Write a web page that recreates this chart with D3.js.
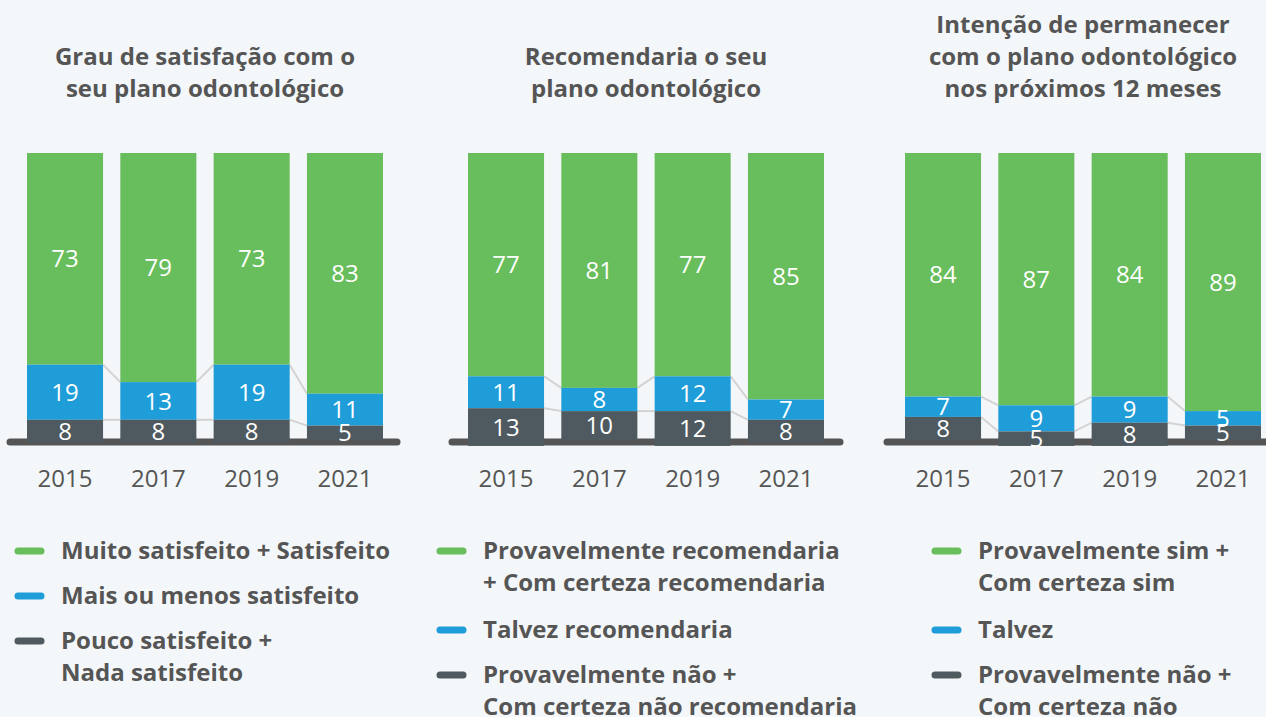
<!DOCTYPE html>
<html><head><meta charset="utf-8">
<script src="https://cdn.jsdelivr.net/npm/d3@7"></script>
<style>
html,body{margin:0;padding:0;background:#f4f7f9;}
svg{display:block;font-family:"Open Sans",sans-serif;}
</style></head>
<body><svg id="c" width="1266" height="717"></svg>
<script>
const years = ["2015","2017","2019","2021"];
const seriesKeys = ["top","mid","low"];
const colors = ["#68bd5c","#1f9dd9","#4e5a60"];

const titles = [
  ["Grau de satisfação com o","seu plano odontológico"],
  ["Recomendaria o seu","plano odontológico"],
  ["Intenção de permanecer","com o plano odontológico","nos próximos 12 meses"]
];
const satisfacao = { top:[73,79,73,83], mid:[19,13,19,11], low:[8,8,8,5] };
const recomendaria = { top:[77,81,77,85], mid:[11,8,12,7], low:[13,10,12,8] };
const permanecer = { top:[84,87,84,89], mid:[7,9,9,5], low:[8,5,8,5] };
const panelsData = [satisfacao, recomendaria, permanecer];

const legends = [
  [["Muito satisfeito + Satisfeito"],["Mais ou menos satisfeito"],["Pouco satisfeito +","Nada satisfeito"]],
  [["Provavelmente recomendaria","+ Com certeza recomendaria"],["Talvez recomendaria"],["Provavelmente não +","Com certeza não recomendaria"]],
  [["Provavelmente sim +","Com certeza sim"],["Talvez"],["Provavelmente não +","Com certeza não"]]
];

const svg = d3.select("#c");
const panelX = [27, 468, 905];     // left edge of first bar
const bandW = 356;                   // span of the 4 bars
const baseExt = [[-17,14],[-16,16],[-18,40]];
const legendX = [15, 437, 932];
const plotTop = 153, h100 = 290;
const y = d3.scaleLinear().domain([0,100]).range([plotTop, plotTop + h100]);

panelsData.forEach((pd, pi) => {
  const g = svg.append("g");
  const x = d3.scaleBand().domain(years).range([panelX[pi], panelX[pi] + bandW]).paddingInner(0.185).paddingOuter(0);
  const bw = x.bandwidth();
  const cx = panelX[pi] + bandW / 2;

  // title
  const tl = titles[pi];
  const ty0 = 89 - (tl.length - 1) * 32;
  g.selectAll("text.title").data(tl).join("text")
    .attr("x", cx).attr("y", (d,i) => ty0 + i*32).attr("dy","0.35em")
    .attr("text-anchor","middle").attr("font-weight",700).attr("font-size",24)
    .attr("fill","#555").text(d => d);

  // stack rows
  const rows = years.map((yr, i) => {
    let acc = 0; const segs = [];
    seriesKeys.forEach((k, si) => { segs.push({k, si, v: pd[k][i], y0: acc, y1: acc + pd[k][i]}); acc += pd[k][i]; });
    return {yr, segs};
  });

  // baseline
  g.append("line")
    .attr("x1", panelX[pi] + baseExt[pi][0]).attr("x2", x(years[3]) + bw + baseExt[pi][1])
    .attr("y1", 442).attr("y2", 442)
    .attr("stroke","#555").attr("stroke-width",7).attr("stroke-linecap","round");

  // connectors
  for (let i = 0; i < years.length - 1; i++) {
    [0,1].forEach(si => {
      g.append("line")
        .attr("x1", x(years[i]) + bw).attr("y1", y(rows[i].segs[si].y1))
        .attr("x2", x(years[i+1])).attr("y2", y(rows[i+1].segs[si].y1))
        .attr("stroke","#d3d3d3").attr("stroke-width",2);
    });
  }

  // bars
  rows.forEach(r => {
    g.selectAll(null).data(r.segs).join("rect")
      .attr("x", x(r.yr)).attr("width", bw)
      .attr("y", d => y(d.y0)).attr("height", d => y(d.y1) - y(d.y0))
      .attr("fill", d => colors[d.si]);
    g.selectAll(null).data(r.segs).join("text")
      .attr("x", x(r.yr) + bw/2).attr("y", d => (y(d.y0) + y(d.y1))/2).attr("dy","0.36em")
      .attr("text-anchor","middle").attr("font-size",24).attr("fill","#fff")
      .text(d => d.v);
  });

  // x axis labels
  const ax = g.append("g").attr("transform","translate(0,478)")
    .call(d3.axisBottom(x).tickSize(0).tickPadding(0));
  ax.select(".domain").remove();
  ax.selectAll("text").attr("font-size",24).attr("fill","#555").attr("dy","0.36em")
    .attr("font-family","Open Sans, sans-serif");

  // legend
  let ly = 551;
  legends[pi].forEach((lines, li) => {
    g.append("line").attr("x1", legendX[pi] + 3).attr("x2", legendX[pi] + 26)
      .attr("y1", ly).attr("y2", ly).attr("stroke", colors[li]).attr("stroke-width",7).attr("stroke-linecap","round");
    lines.forEach((t, k) => {
      g.append("text").attr("x", legendX[pi] + 46).attr("y", ly + k*32).attr("dy","0.35em")
        .attr("font-size",24).attr("font-weight",700).attr("fill","#555").text(t);
    });
    ly += lines.length === 1 ? 45 : 79;
  });
});
</script></body></html>
